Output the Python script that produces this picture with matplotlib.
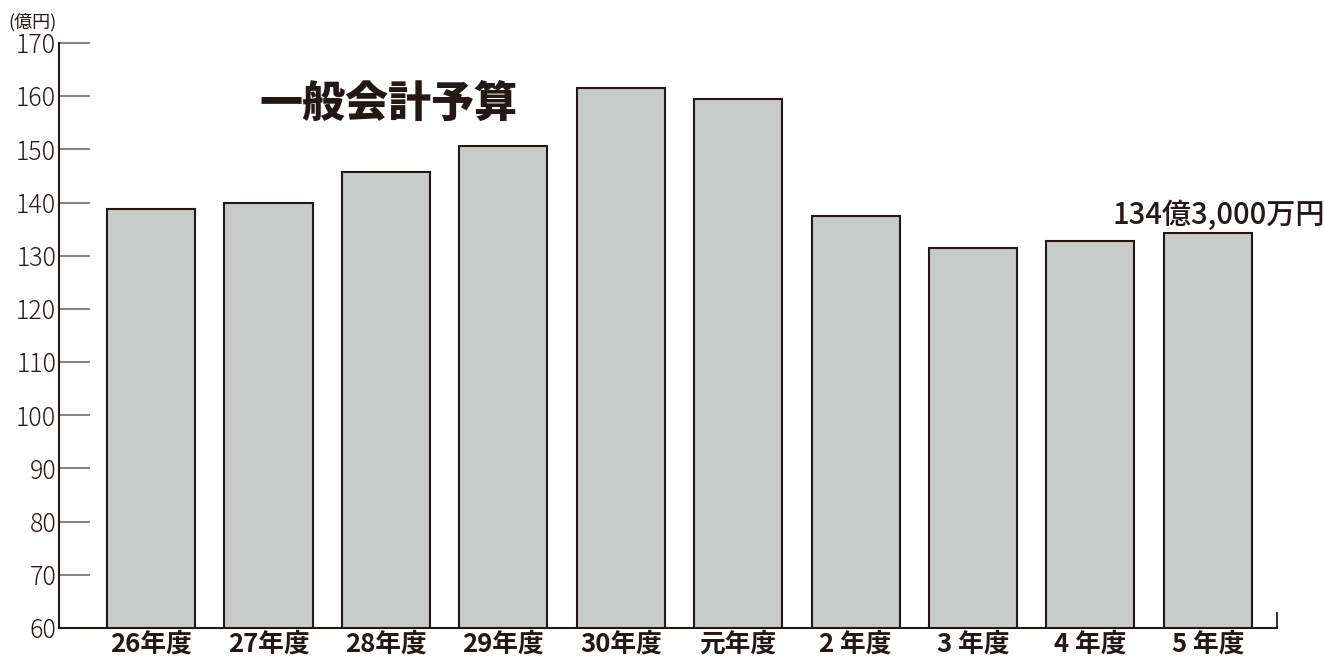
import matplotlib
matplotlib.use("Agg")
import matplotlib.pyplot as plt

plt.rcParams['font.family'] = ['Noto Sans CJK JP', 'DejaVu Sans']

# 一般会計予算（億円）
years = ['26年度', '27年度', '28年度', '29年度', '30年度',
         '元年度', '2 年度', '3 年度', '4 年度', '5 年度']
budget = [138.8, 139.9, 145.7, 150.6, 161.5, 159.5, 137.5, 131.5, 132.8, 134.3]
yticks = list(range(60, 171, 10))
latest_label = '134億3,000万円'

fig = plt.figure(figsize=(13.24, 6.59), dpi=100)
ax = fig.add_axes([0.0446, 0.047, 0.92, 0.8877])

x = range(len(years))
ax.bar(x, budget, width=0.75, bottom=0, color='#c9caca',
       edgecolor='#231815', linewidth=1.5, zorder=2)

ax.set_ylim(60, 170)
ax.set_xlim(-0.784, 9.59)
ax.set_yticks(yticks)
ax.set_yticklabels([str(v) for v in yticks], fontsize=18, fontweight='light',
                   color='#231815')
ax.set_xticks(list(x))
ax.set_xticklabels(years, fontsize=18.5, fontweight='bold', color='#231815')

ax.tick_params(axis='y', direction='in', length=22, width=1.3,
               color='#777777', pad=2)
ax.tick_params(axis='x', length=0, pad=2)

for side in ['top', 'right']:
    ax.spines[side].set_visible(False)
for side in ['left', 'bottom']:
    ax.spines[side].set_color('#231815')
    ax.spines[side].set_linewidth(1.5)

# small end mark on the right of the baseline
ax.plot([1, 1], [0, 0.025], transform=ax.transAxes, color='#231815',
        linewidth=1.3, clip_on=False)

ax.text(2.02, 158.5, '一般会計予算', fontsize=31, fontweight='black',
        color='#231815', ha='center', va='center')
ax.text(9.09, 137.6, latest_label, fontsize=21, fontweight='medium',
        color='#231815', ha='center', va='center')
fig.text(0.006, 0.966, '(億円)', fontsize=13, color='#231815',
         ha='left', va='center')

fig.savefig('out.png', dpi=100)
